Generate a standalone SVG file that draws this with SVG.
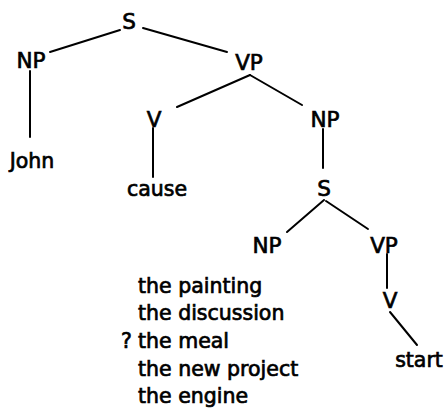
<svg xmlns="http://www.w3.org/2000/svg" width="445" height="409" viewBox="0 0 445 409">
<style>
text{font-family:"DejaVu Sans","Liberation Sans",sans-serif;font-size:20.5px;fill:#000;stroke:#000;stroke-width:0.7}
.n{text-anchor:middle}
.c{font-size:21.5px}
.e{stroke:#000;stroke-width:2;fill:none;stroke-linecap:round}
</style>
<rect width="445" height="409" fill="#fff"/>
<g id="connectors">
<line class="e" x1="120" y1="30" x2="50" y2="52"/>
<line class="e" x1="143" y1="28" x2="227" y2="52"/>
<line class="e" x1="30" y1="71" x2="30" y2="137"/>
<line class="e" x1="250" y1="75" x2="177" y2="107"/>
<line class="e" x1="250" y1="75" x2="302" y2="105"/>
<line class="e" x1="153" y1="128" x2="153" y2="177"/>
<line class="e" x1="323" y1="129" x2="323" y2="168"/>
<line class="e" x1="324" y1="200" x2="287" y2="232"/>
<line class="e" x1="326" y1="201" x2="368" y2="229"/>
<line class="e" x1="387" y1="254" x2="387" y2="288"/>
<line class="e" x1="390" y1="312" x2="417" y2="345"/>
</g>
<g id="S"><text class="n c" x="129" y="29">S</text></g>
<g id="NP1"><text class="n c" x="31" y="68">NP</text></g>
<g id="VP1"><text class="n c" x="249" y="70">VP</text></g>
<g id="John"><text class="n" x="32" y="168">John</text></g>
<g id="V1"><text class="n c" x="154" y="127">V</text></g>
<g id="NP2"><text class="n c" x="325" y="127">NP</text></g>
<g id="cause"><text class="n" x="157" y="196">cause</text></g>
<g id="S2"><text class="n c" x="324" y="196">S</text></g>
<g id="NP3"><text class="n c" x="267" y="253">NP</text></g>
<g id="VP3"><text class="n c" x="384" y="253">VP</text></g>
<g id="V3"><text class="n c" x="390" y="308">V</text></g>
<g id="start"><text class="n" x="419" y="367">start</text></g>
<g id="list">
<text x="138" y="293">the painting</text>
<text x="138" y="320">the discussion</text>
<text x="121" y="348">?</text>
<text x="138" y="348">the meal</text>
<text x="138" y="376">the new project</text>
<text x="138" y="403">the engine</text>
</g>
</svg>
